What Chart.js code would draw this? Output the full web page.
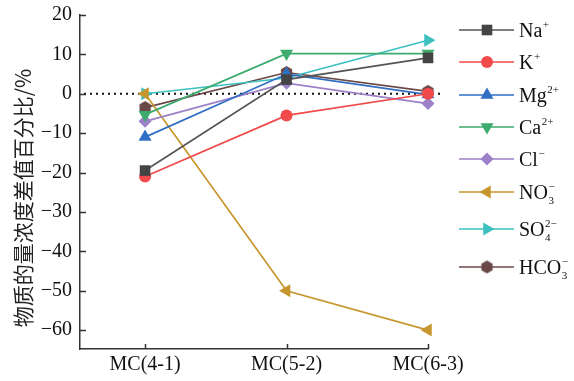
<!DOCTYPE html>
<html lang="zh">
<head>
  <meta charset="UTF-8">
  <title>物质的量浓度差值百分比</title>
  <script src="https://cdn.jsdelivr.net/npm/chart.js"></script>
  <style>
    html, body { margin: 0; padding: 0; background: #fff; }
    #wrap { width: 574px; height: 381px; }
  </style>
</head>
<body>
  <div id="wrap"><canvas id="ionChart" width="574" height="381"></canvas></div>

  <script>
    const categories = ["MC(4-1)", "MC(5-2)", "MC(6-3)"];
    const yTicks = [20, 10, 0, -10, -20, -30, -40, -50, -60];

    const naValues   = [-19.5, 3.6, 9.1];
    const kValues    = [-21.0, -5.5, 0.0];
    const mgValues   = [-11.0, 5.0, -0.2];
    const caValues   = [-5.3, 10.2, 10.2];
    const clValues   = [-7.0, 2.7, -2.5];
    const no3Values  = [0.0, -50.0, -60.0];
    const so4Values  = [0.0, 4.0, 13.6];
    const hco3Values = [-3.5, 5.4, 0.6];

    const serif = "'Liberation Serif', 'DejaVu Serif', serif";

    // hexagon marker for HCO3-
    function hexMarker(color, r) {
      const c = document.createElement("canvas");
      c.width = c.height = r * 2 + 2;
      const g = c.getContext("2d");
      g.fillStyle = color;
      g.beginPath();
      for (let i = 0; i < 6; i++) {
        const a = Math.PI / 6 + i * Math.PI / 3;
        const px = r + 1 + r * Math.cos(a), py = r + 1 + r * Math.sin(a);
        i ? g.lineTo(px, py) : g.moveTo(px, py);
      }
      g.closePath();
      g.fill();
      return c;
    }

    const series = [
      { label: "Na⁺",  values: naValues,   line: "#555555", fill: "#444444", style: "rect", radius: 7.5, rot: 0 },
      { label: "K⁺",   values: kValues,    line: "#f04a4a", fill: "#f04a4a", style: "circle", radius: 6, rot: 0 },
      { label: "Mg²⁺", values: mgValues,   line: "#2f6fc4", fill: "#2f6fc4", style: "triangle", radius: 7.5, rot: 0 },
      { label: "Ca²⁺", values: caValues,   line: "#3dab6e", fill: "#3dab6e", style: "triangle", radius: 7.5, rot: 180 },
      { label: "Cl⁻",  values: clValues,   line: "#9c80c8", fill: "#9c80c8", style: "rectRot", radius: 6.5, rot: 0 },
      { label: "NO₃⁻", values: no3Values,  line: "#c8962e", fill: "#c8962e", style: "triangle", radius: 7.5, rot: -90 },
      { label: "SO₄²⁻", values: so4Values, line: "#3cc0c0", fill: "#3cc0c0", style: "triangle", radius: 7.5, rot: 90 },
      { label: "HCO₃⁻", values: hco3Values, line: "#6b4848", fill: "#6b4848", style: hexMarker("#6b4848", 6.5), radius: 6.5, rot: 0 }
    ];

    // legend text pieces (base + subscript / superscript)
    const legendText = [
      { base: "Na", sup: "+" },
      { base: "K", sup: "+" },
      { base: "Mg", sup: "2+" },
      { base: "Ca", sup: "2+" },
      { base: "Cl", sup: "−" },
      { base: "NO", sub: "3", sup: "−" },
      { base: "SO", sub: "4", sup: "2−" },
      { base: "HCO", sub: "3", sup: "−" }
    ];
    const legendRowY = [30, 62, 95, 127, 159, 192, 229, 267];

    const decorPlugin = {
      id: "decor",
      beforeDatasetsDraw(chart) {
        const { ctx, chartArea, scales } = chart;
        const y0 = scales.y.getPixelForValue(0);
        ctx.save();
        ctx.strokeStyle = "#111";
        ctx.lineWidth = 2;
        ctx.setLineDash([2, 4]);
        ctx.beginPath();
        ctx.moveTo(chartArea.left + 4, y0);
        ctx.lineTo(chartArea.right + 12, y0);
        ctx.stroke();
        ctx.restore();
      },
      afterDraw(chart) {
        const { ctx, chartArea, scales } = chart;
        ctx.save();
        // inward tick marks
        ctx.strokeStyle = "#333";
        ctx.lineWidth = 1.5;
        ctx.beginPath();
        yTicks.forEach(v => {
          const py = Math.round(scales.y.getPixelForValue(v)) + 0.5;
          ctx.moveTo(chartArea.left, py);
          ctx.lineTo(chartArea.left + 6, py);
        });
        categories.forEach((c, i) => {
          const px = Math.round(scales.x.getPixelForValue(i + 1)) + 0.5;
          ctx.moveTo(px, chartArea.bottom);
          ctx.lineTo(px, chartArea.bottom - 5);
        });
        ctx.stroke();

        // y axis title
        ctx.save();
        ctx.translate(23, 198);
        ctx.rotate(-Math.PI / 2);
        ctx.fillStyle = "#222";
        ctx.font = "21px 'Noto Sans CJK SC'";
        ctx.textAlign = "center";
        ctx.textBaseline = "middle";
        ctx.fillText("物质的量浓度差值百分比/%", 0, 0);
        ctx.restore();

        // legend
        series.forEach((s, i) => {
          const y = legendRowY[i];
          ctx.strokeStyle = s.line;
          ctx.lineWidth = 1.5;
          ctx.beginPath();
          ctx.moveTo(459, y);
          ctx.lineTo(514, y);
          ctx.stroke();
          ctx.fillStyle = s.fill;
          Chart.helpers.drawPoint(ctx, {
            pointStyle: s.style, radius: s.radius, rotation: s.rot, borderWidth: 0
          }, 487, y);

          const t = legendText[i];
          ctx.fillStyle = "#111";
          ctx.textAlign = "left";
          ctx.textBaseline = "alphabetic";
          ctx.font = "20px " + serif;
          const base = y + 7;
          ctx.fillText(t.base, 519, base);
          const x2 = 519 + ctx.measureText(t.base).width + 0.5;
          ctx.font = "11px " + serif;
          if (t.sup) ctx.fillText(t.sup, x2, base - 9);
          if (t.sub) ctx.fillText(t.sub, x2, base + 5);
        });
        ctx.restore();
      }
    };

    const datasets = series.map(s => ({
      label: s.label,
      data: s.values.map((v, i) => ({ x: i + 1, y: v })),
      borderColor: s.line,
      backgroundColor: s.fill,
      borderWidth: 1.7,
      pointStyle: s.style,
      pointRadius: s.radius,
      pointRotation: s.rot,
      pointBorderWidth: 0,
      pointBackgroundColor: s.fill,
      tension: 0,
      clip: false
    }));

    new Chart(document.getElementById("ionChart").getContext("2d"), {
      type: "line",
      data: { datasets },
      options: {
        responsive: false,
        animation: false,
        layout: { padding: { top: 15, right: 146, left: 0, bottom: 0 } },
        plugins: { legend: { display: false }, tooltip: { enabled: false } },
        scales: {
          x: {
            type: "linear",
            min: 0.54,
            max: 3,
            afterBuildTicks: scale => { scale.ticks = categories.map((c, i) => ({ value: i + 1 })); },
            afterFit: scale => { scale.height = 32; scale.paddingLeft = 0; scale.paddingRight = 0; },
            grid: { drawOnChartArea: false, drawTicks: false },
            border: { color: "#333", width: 1.5 },
            ticks: {
              color: "#111",
              font: { family: serif, size: 20 },
              padding: 4,
              maxRotation: 0,
              callback: v => categories[v - 1]
            }
          },
          y: {
            min: -64.8,
            max: 20,
            afterBuildTicks: scale => { scale.ticks = yTicks.map(v => ({ value: v })); },
            afterFit: scale => { scale.width = 80; scale.paddingTop = 0; scale.paddingBottom = 0; },
            grid: { drawOnChartArea: false, drawTicks: false },
            border: { color: "#333", width: 1.5 },
            ticks: {
              color: "#111",
              font: { family: serif, size: 20 },
              padding: 8,
              callback: v => String(v).replace("-", "−")
            }
          }
        }
      },
      plugins: [decorPlugin]
    });
  </script>
</body>
</html>
